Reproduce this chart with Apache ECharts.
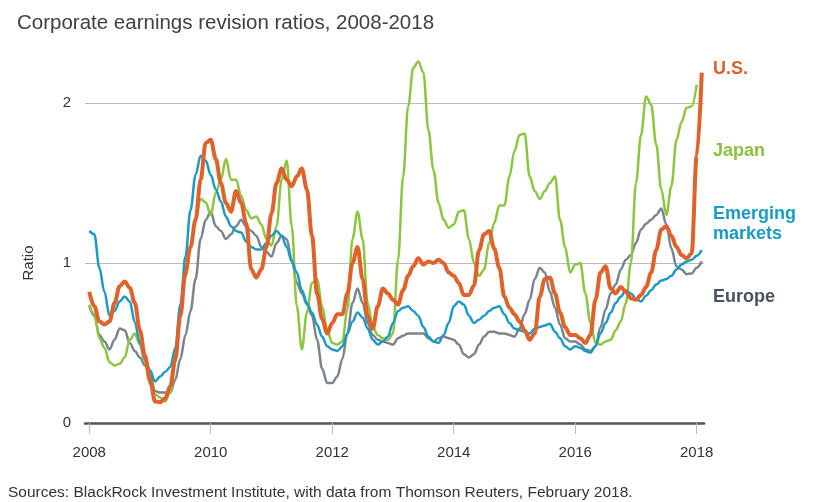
<!DOCTYPE html>
<html><head><meta charset="utf-8">
<script src="https://cdn.jsdelivr.net/npm/echarts@6/dist/echarts.min.js"></script>
<style>html,body{margin:0;padding:0;background:#fff}#c{width:828px;height:502px}</style>
</head><body><div id="c"></div>
<script>
const chartTitle = 'Corporate earnings revision ratios, 2008-2018';
const sourceNote = 'Sources: BlackRock Investment Institute, with data from Thomson Reuters, February 2018.';
const startYear = 2008;
const monthsPerYear = 12;
const xTicks = [2008, 2010, 2012, 2014, 2016, 2018];
const yTicks = [0, 1, 2];
const seriesNames = ['Europe', 'Japan', 'Emerging markets', 'U.S.'];

// monthly values, Jan 2008 onward
const usValues = [
  0.82, 0.73, 0.635, 0.615, 0.635, 0.75, 0.855, 0.885, 0.845, 0.75, 0.58, 0.42,
  0.27, 0.135, 0.13, 0.155, 0.23, 0.40, 0.67, 0.94, 1.10, 1.27, 1.52, 1.75,
  1.77, 1.65, 1.50, 1.375, 1.32, 1.45, 1.375, 1.25, 0.96, 0.91, 0.96, 1.10,
  1.31, 1.50, 1.59, 1.52, 1.48, 1.54, 1.59, 1.46, 1.17, 0.81, 0.65, 0.56,
  0.625, 0.68, 0.68, 0.81, 1.0, 1.10, 0.90, 0.67, 0.59, 0.73, 0.84, 0.81,
  0.77, 0.74, 0.83, 0.92, 0.98, 1.03, 0.99, 1.01, 1.0, 1.02, 1.0, 0.94,
  0.92, 0.875, 0.80, 0.80, 0.86, 1.08, 1.18, 1.20, 1.09, 0.97, 0.79, 0.72,
  0.68, 0.635, 0.58, 0.52, 0.56, 0.79, 0.90, 0.91, 0.81, 0.69, 0.60, 0.55,
  0.55, 0.53, 0.50, 0.55, 0.77, 0.94, 0.98, 0.84, 0.81, 0.85, 0.82, 0.78,
  0.77, 0.80, 0.85, 0.94, 1.08, 1.21, 1.23, 1.17, 1.10, 1.05, 1.03, 1.06,
  1.67, 2.19
];
const emValues = [
  1.20, 1.18, 0.97, 0.82, 0.67, 0.70, 0.76, 0.79, 0.76, 0.63, 0.50, 0.40,
  0.33, 0.26, 0.29, 0.32, 0.35, 0.47, 0.74, 1.04, 1.33, 1.55, 1.67, 1.64,
  1.55, 1.46, 1.385, 1.29, 1.23, 1.20, 1.19, 1.135, 1.10, 1.085, 1.085, 1.125,
  1.17, 1.20, 1.17, 1.10, 1.01, 0.94, 0.83, 0.75, 0.69, 0.615, 0.54, 0.48,
  0.46, 0.45, 0.48, 0.56, 0.635, 0.69, 0.66, 0.59, 0.52, 0.49, 0.51, 0.54,
  0.625, 0.70, 0.72, 0.73, 0.70, 0.67, 0.60, 0.54, 0.51, 0.50, 0.55, 0.625,
  0.73, 0.76, 0.74, 0.67, 0.625, 0.645, 0.67, 0.70, 0.72, 0.73, 0.68, 0.625,
  0.59, 0.58, 0.57, 0.56, 0.59, 0.60, 0.61, 0.62, 0.57, 0.53, 0.48, 0.46,
  0.48, 0.47, 0.45, 0.44, 0.48, 0.56, 0.625, 0.69, 0.75, 0.79, 0.83, 0.81,
  0.775, 0.76, 0.795, 0.83, 0.865, 0.89, 0.90, 0.92, 0.96, 0.99, 1.01, 1.02,
  1.045, 1.08
];
const japanValues = [
  0.74, 0.68, 0.53, 0.47, 0.38, 0.36, 0.37, 0.41, 0.52, 0.56, 0.49, 0.38,
  0.24, 0.18, 0.16, 0.135, 0.19, 0.38, 0.67, 0.91, 1.10, 1.27, 1.40, 1.38,
  1.30, 1.44, 1.52, 1.65, 1.52, 1.52, 1.42, 1.33, 1.28, 1.29, 1.24, 1.15,
  1.11, 1.23, 1.52, 1.64, 1.23, 0.73, 0.46, 0.69, 0.875, 0.90, 0.73, 0.58,
  0.50, 0.49, 0.51, 0.71, 1.15, 1.32, 1.15, 0.75, 0.60, 0.55, 0.53, 0.52,
  0.56, 1.02, 1.54, 1.98, 2.22, 2.26, 2.19, 1.83, 1.58, 1.375, 1.27, 1.22,
  1.24, 1.32, 1.33, 1.15, 1.0, 0.92, 0.96, 1.125, 1.25, 1.36, 1.36, 1.54,
  1.70, 1.80, 1.81, 1.54, 1.45, 1.40, 1.45, 1.50, 1.54, 1.27, 1.10, 0.94,
  0.99, 1.00, 0.81, 0.625, 0.50, 0.49, 0.51, 0.52, 0.58, 0.635, 0.75, 1.0,
  1.50, 1.80, 2.04, 1.99, 1.74, 1.46, 1.30, 1.48, 1.77, 1.88, 1.97, 1.98,
  2.115
];
const europeValues = [
  0.73, 0.67, 0.55, 0.51, 0.46, 0.52, 0.59, 0.58, 0.50, 0.45, 0.41, 0.36,
  0.30, 0.20, 0.19, 0.19, 0.19, 0.27, 0.40, 0.55, 0.70, 0.90, 1.15, 1.27,
  1.32, 1.23, 1.20, 1.15, 1.18, 1.23, 1.27, 1.23, 1.20, 1.17, 1.10, 1.07,
  1.04, 1.125, 1.17, 1.15, 1.02, 0.875, 0.81, 0.74, 0.67, 0.52, 0.34, 0.25,
  0.25, 0.29, 0.40, 0.56, 0.75, 0.84, 0.75, 0.625, 0.55, 0.52, 0.51, 0.50,
  0.49, 0.53, 0.545, 0.56, 0.56, 0.56, 0.56, 0.53, 0.51, 0.53, 0.54, 0.53,
  0.52, 0.49, 0.43, 0.41, 0.43, 0.49, 0.54, 0.57, 0.57, 0.56, 0.56, 0.55,
  0.54, 0.59, 0.68, 0.77, 0.90, 0.97, 0.94, 0.82, 0.72, 0.615, 0.53, 0.51,
  0.51, 0.49, 0.46, 0.45, 0.48, 0.60, 0.71, 0.81, 0.865, 0.96, 1.02, 1.05,
  1.125, 1.21, 1.245, 1.27, 1.30, 1.34, 1.24, 1.09, 0.98, 0.96, 0.93, 0.935,
  0.97, 1.01
];

const colors = { 'U.S.': '#E0622A', 'Japan': '#8CC540', 'Emerging markets': '#1A9BC3', 'Europe': '#7A848E' };
const labelColors = { 'U.S.': '#DB6128', 'Japan': '#8CC040', 'Emerging markets': '#1A9BC3', 'Europe': '#46525D' };

function toPairs(vals) { return vals.map((v, i) => [startYear + i / monthsPerYear, v]); }
const valuesByName = { 'U.S.': usValues, 'Japan': japanValues, 'Emerging markets': emValues, 'Europe': europeValues };

const chart = echarts.init(document.getElementById('c'), null, { renderer: 'canvas' });
const FONT = '"Liberation Sans", Arial, Helvetica, sans-serif';

const option = {
  backgroundColor: '#ffffff',
  animation: false,
  textStyle: { fontFamily: FONT },
  title: {
    text: chartTitle, left: 12, top: 8,
    textStyle: { fontFamily: FONT, fontSize: 20.5, fontWeight: 'normal', color: '#404040' }
  },
  grid: { left: 85, right: 124, top: 103, bottom: 79 },
  xAxis: {
    type: 'value', min: 2007.93, max: 2018.12,
    axisLine: { lineStyle: { color: '#555555', width: 2.5 } },
    axisTick: { customValues: xTicks, length: 11, lineStyle: { color: '#bbbbbb', width: 1 } },
    axisLabel: { customValues: xTicks, margin: 22, fontSize: 15, color: '#333333', fontFamily: FONT, formatter: v => String(Math.round(v)) },
    splitLine: { show: false }
  },
  yAxis: {
    type: 'value', min: yTicks[0], max: yTicks[yTicks.length - 1], interval: 1,
    name: 'Ratio', nameLocation: 'middle', nameGap: 49, nameRotate: 90,
    nameTextStyle: { fontSize: 15, color: '#333333', fontFamily: FONT },
    axisLine: { show: false }, axisTick: { show: false },
    axisLabel: { fontSize: 15, color: '#333333', margin: 14, padding: [0, 0, 8, 0], fontFamily: FONT },
    splitLine: { lineStyle: { color: '#bbbbbb', width: 1 } }
  },
  series: seriesNames.map(name => ({
    name, type: 'line', data: toPairs(valuesByName[name]),
    showSymbol: false, symbol: 'none', clip: false,
    smooth: 0.35, smoothMonotone: 'x',
    lineStyle: { color: colors[name], width: name === 'U.S.' ? 4 : 2.5 },
    z: name === 'U.S.' ? 5 : 3
  })),
  graphic: [
    { type: 'text', left: 713, top: 60, style: { text: 'U.S.', fill: labelColors['U.S.'], font: 'bold 18px ' + FONT } },
    { type: 'text', left: 713, top: 142, style: { text: 'Japan', fill: labelColors['Japan'], font: 'bold 18px ' + FONT } },
    { type: 'text', left: 713, top: 204, style: { text: 'Emerging\nmarkets', fill: labelColors['Emerging markets'], font: 'bold 18px ' + FONT, lineHeight: 20 } },
    { type: 'text', left: 713, top: 288, style: { text: 'Europe', fill: labelColors['Europe'], font: 'bold 18px ' + FONT } },
    { type: 'text', left: 8, top: 485, style: { text: sourceNote, fill: '#333333', font: '15.5px ' + FONT } }
  ]
};
chart.setOption(option);
</script>
</body></html>
